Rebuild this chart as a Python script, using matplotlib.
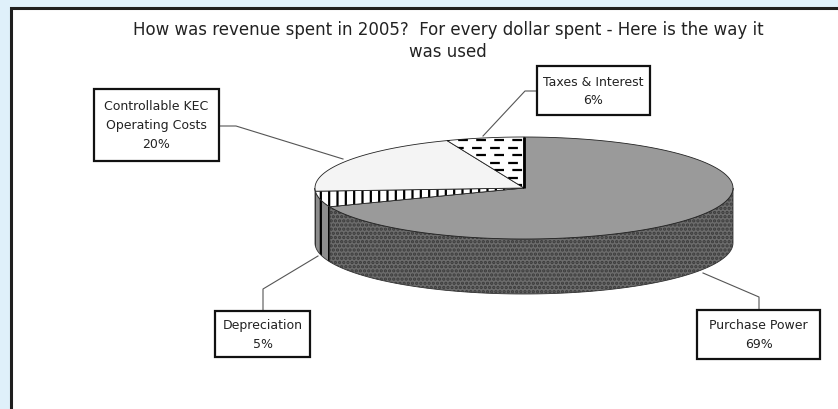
import numpy as np
import matplotlib
matplotlib.use("Agg")
import matplotlib.pyplot as plt
from matplotlib.patches import Polygon, Rectangle
from matplotlib.lines import Line2D

plt.rcParams['font.family'] = ['DejaVu Sans']
plt.rcParams['hatch.linewidth'] = 1.6
plt.rcParams['lines.scale_dashes'] = False

# ---- data ----
title = "How was revenue spent in 2005?  For every dollar spent - Here is the way it\nwas used"
categories = ["Purchase Power", "Depreciation", "Controllable KEC\nOperating Costs", "Taxes & Interest"]
values = [69, 5, 20, 6]

# ---- style / layout ----
top_colors = ['#9a9a9a', '#ffffff', '#f4f4f4', '#ffffff']
side_colors = ['#6c6c6c', '#8c8c8c', '#d0d0d0', '#d0d0d0']
side_hatch = ['....', '||', None, None]
top_hatch = [None, '||', None, None]
label_boxes = [  # (x0, y0, x1, y1) in pixels, leader path
    ((697, 311, 820, 360), [(759, 311), (759, 298), (703, 274)]),
    ((215, 312, 310, 358), [(263, 312), (263, 290), (318, 257)]),
    ((94, 90, 219, 162), [(219, 127), (236, 127), (343, 160)]),
    ((537, 67, 650, 116), [(537, 92), (525, 92), (483, 137)]),
]

W, H = 838, 410
fig = plt.figure(figsize=(W / 100, H / 100), dpi=100)
fig.patch.set_facecolor('#dff0fa')
ax = fig.add_axes([0, 0, 1, 1])
ax.set_xlim(0, W)
ax.set_ylim(H, 0)
ax.axis('off')

# white panel with dark border
ax.add_patch(Rectangle((11, 9), 900, 500, facecolor='white', edgecolor='#1e1e1e', lw=2.2, zorder=0))

cx, cy, rx, ry, depth = 524, 189, 209, 51, 55

def pt(theta, dy=0.0):
    t = np.radians(theta)
    return cx + rx * np.cos(t), cy - ry * np.sin(t) + dy

# slice angles: start at 90 deg, clockwise
fr = np.array(values, dtype=float) / sum(values)
starts = 90 - 360 * np.concatenate([[0], np.cumsum(fr)[:-1]])
ends = starts - 360 * fr

# sides (front half: -180..0)
for i in range(len(values)):
    a_hi, a_lo = starts[i], ends[i]
    for k in (-360, 0, 360):
        lo = max(a_lo + k, -180)
        hi = min(a_hi + k, 0)
        if hi <= lo:
            continue
        th = np.linspace(lo, hi, 80)
        xs = cx + rx * np.cos(np.radians(th))
        ys = cy - ry * np.sin(np.radians(th))
        poly = np.vstack([np.column_stack([xs, ys]),
                          np.column_stack([xs[::-1], ys[::-1] + depth])])
        p = Polygon(poly, closed=True, facecolor=side_colors[i], edgecolor='#333333',
                    lw=0.6, zorder=2)
        if side_hatch[i]:
            p.set_hatch(side_hatch[i])
            p._hatch_color = matplotlib.colors.to_rgba('#3a3a3a' if i == 0 else 'black')
        ax.add_patch(p)

# top faces
tops = []
for i in range(len(values)):
    th = np.linspace(starts[i], ends[i], 120)
    xs = cx + rx * np.cos(np.radians(th))
    ys = cy - ry * np.sin(np.radians(th))
    poly = np.vstack([[cx, cy], np.column_stack([xs, ys])])
    p = Polygon(poly, closed=True, facecolor=top_colors[i], edgecolor='#222222',
                lw=0.6, zorder=3)
    if top_hatch[i]:
        p.set_hatch(top_hatch[i])
        p._hatch_color = matplotlib.colors.to_rgba('black')
    ax.add_patch(p)
    tops.append(p)

# dashed pattern for Taxes & Interest
tp = tops[3]
for j, yy in enumerate(np.arange(cy - ry + 3, cy + 5, 7.5)):
    ln = Line2D([cx - 120, cx + 20], [yy, yy], color='black', lw=1.6,
                linestyle=(3 * (j % 2), (7, 6)), dash_capstyle='butt', zorder=4)
    ln.set_clip_path(tp)
    ax.add_line(ln)

# thick boundary between Controllable and Taxes
xe, ye = pt(ends[3])
ax.plot([cx, xe], [cy, ye], color='black', lw=2.0, zorder=5, solid_capstyle='butt')

# labels with boxes and leaders
for i, ((x0, y0, x1, y1), leader) in enumerate(label_boxes):
    ax.add_patch(Rectangle((x0, y0), x1 - x0, y1 - y0, facecolor='white',
                           edgecolor='#111111', lw=1.6, zorder=6))
    ax.text((x0 + x1) / 2, (y0 + y1) / 2, f"{categories[i]}\n{values[i]}%",
            ha='center', va='center', fontsize=9, color='#222222',
            linespacing=1.6, zorder=7)
    lx, ly = zip(*leader)
    ax.plot(lx, ly, color='#555555', lw=0.8, zorder=5)

ax.text(448, 41, title, ha='center', va='center', fontsize=12, color='#222222',
        linespacing=1.3, zorder=7)

fig.savefig('out.png', dpi=100, facecolor=fig.get_facecolor())
